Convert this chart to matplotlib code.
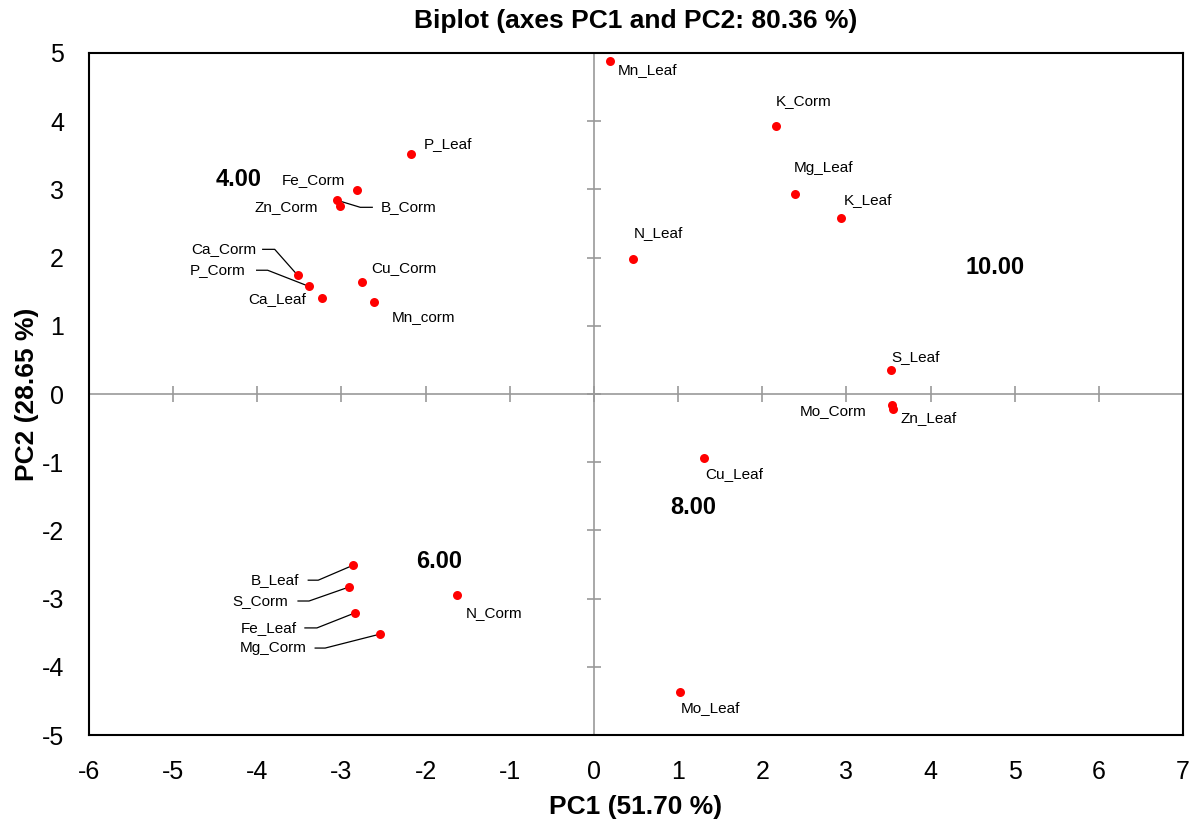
import numpy as np
import matplotlib
matplotlib.use("Agg")
import matplotlib.pyplot as plt

plt.rcParams['font.family'] = ['Liberation Sans', 'DejaVu Sans']
plt.rcParams['axes.unicode_minus'] = False

# PCA scores
names = ['Mn_Leaf', 'K_Corm', 'Mg_Leaf', 'K_Leaf', 'N_Leaf', 'S_Leaf', 'Mo_Corm',
         'Zn_Leaf', 'Cu_Leaf', 'Mo_Leaf', 'N_Corm', 'P_Leaf', 'Fe_Corm', 'Zn_Corm',
         'B_Corm', 'Ca_Corm', 'P_Corm', 'Ca_Leaf', 'Cu_Corm', 'Mn_corm',
         'B_Leaf', 'S_Corm', 'Fe_Leaf', 'Mg_Corm']
pc1 = [0.19, 2.16, 2.39, 2.94, 0.46, 3.53, 3.54,
       3.55, 1.31, 1.02, -1.63, -2.17, -2.82, -3.02,
       -3.05, -3.52, -3.39, -3.23, -2.76, -2.61,
       -2.86, -2.91, -2.84, -2.54]
pc2 = [4.88, 3.93, 2.93, 2.58, 1.98, 0.35, -0.16,
       -0.22, -0.94, -4.37, -2.95, 3.52, 2.99, 2.76,
       2.84, 1.74, 1.58, 1.41, 1.64, 1.35,
       -2.51, -2.83, -3.21, -3.52]

# bold group values written on the chart
group_text = ['4.00', '6.00', '8.00', '10.00']
group_x = [-4.22, -1.84, 1.18, 4.77]
group_y = [3.14, -2.46, -1.67, 1.85]

# label placement: (dx, dy) in pixels from the dot, dy positive = downwards
label_pos = {
    'Mn_Leaf': (8, 9, 'left'), 'K_Corm': (0, -25, 'left'), 'Mg_Leaf': (-1, -26, 'left'),
    'K_Leaf': (2, -18, 'left'), 'N_Leaf': (1, -26, 'left'), 'S_Leaf': (0, -13, 'left'),
    'Mo_Corm': (-25, 6, 'right'), 'Zn_Leaf': (8, 9, 'left'), 'Cu_Leaf': (1, 16, 'left'),
    'Mo_Leaf': (1, 16, 'left'), 'N_Corm': (9, 18, 'left'), 'P_Leaf': (12, -10, 'left'),
    'Fe_Corm': (-11, -10, 'right'), 'Zn_Corm': (-22, 1, 'right'), 'B_Corm': (43, 7, 'left'),
    'Ca_Corm': (-41, -26, 'right'), 'P_Corm': (-63, -16, 'right'), 'Ca_Leaf': (-16, 1, 'right'),
    'Cu_Corm': (10, -14, 'left'), 'Mn_corm': (17, 15, 'left'),
    'B_Leaf': (-54, 15, 'right'), 'S_Corm': (-61, 14, 'right'),
    'Fe_Leaf': (-58, 15, 'right'), 'Mg_Corm': (-74, 14, 'right'),
}
# leader lines: elbow and end point in pixels from the dot
leaders = {
    'B_Corm': [(23, 7), (35, 7)],
    'Ca_Corm': [(-23, -26), (-35, -26)],
    'P_Corm': [(-41, -16), (-52, -16)],
    'B_Leaf': [(-35, 15), (-45, 15)],
    'S_Corm': [(-40, 14), (-51, 14)],
    'Fe_Leaf': [(-38, 15), (-50, 15)],
    'Mg_Corm': [(-55, 14), (-65, 14)],
}

fig = plt.figure(figsize=(11.95, 8.22), dpi=100)
ax = fig.add_axes([89 / 1195, 87 / 822, 1094 / 1195, 682 / 822])
ax.set_xlim(-6, 7)
ax.set_ylim(-5, 5)

# inner axes through the origin with crossing ticks
grey = '#999999'
ax.axhline(0, color=grey, lw=1.2, zorder=1)
ax.axvline(0, color=grey, lw=1.2, zorder=1)
xt = np.arange(-6, 8)
yt = np.arange(-5, 6)
ax.plot(xt, np.zeros_like(xt), ls='none', marker='|', ms=11.5, mew=1.2, color=grey, zorder=1)
ax.plot(np.zeros_like(yt), yt, ls='none', marker='_', ms=10, mew=1.2, color=grey, zorder=1)

ax.scatter(pc1, pc2, s=42, color='#ff0000', zorder=3, linewidths=0)

fig.canvas.draw()
for n, x, y in zip(names, pc1, pc2):
    dx, dy, ha = label_pos[n]
    ax.annotate(n, (x, y), xytext=(dx * 0.72, -dy * 0.72), textcoords='offset points',
                ha=ha, va='center', fontsize=11, zorder=4)
    if n in leaders:
        p = ax.transData.transform((x, y))
        pts = [p] + [p + np.array([ox, -oy]) for ox, oy in leaders[n]]
        d = ax.transData.inverted().transform(np.array(pts))
        ax.plot(d[:, 0], d[:, 1], color='black', lw=0.9, zorder=2)

for t, x, y in zip(group_text, group_x, group_y):
    ax.text(x, y, t, ha='center', va='center', fontsize=17, fontweight='bold')

ax.set_xticks(xt)
ax.set_yticks(yt)
ax.tick_params(length=0, labelsize=18, pad=18)
for s in ax.spines.values():
    s.set_linewidth(1.5)

ax.set_xlabel('PC1 (51.70 %)', fontsize=19, fontweight='bold', labelpad=8)
ax.set_ylabel('PC2 (28.65 %)', fontsize=19, fontweight='bold', labelpad=2)
ax.set_title('Biplot (axes PC1 and PC2: 80.36 %)', fontsize=19, fontweight='bold', pad=18)

fig.savefig('out.png', dpi=100)
